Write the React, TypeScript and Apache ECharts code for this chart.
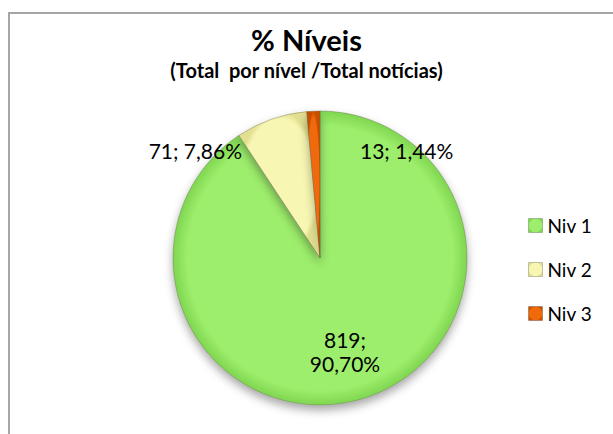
import React, { useEffect, useRef } from "react";
import * as echarts from "echarts";

const categories = ["Niv 1", "Niv 2", "Niv 3"];
const values = [819, 71, 13];
const percentLabels = ["90,70%", "7,86%", "1,44%"];
const colors = ["#9DEE6C", "#F7F6B2", "#F06A0A"];
const edgeColors = ["#7FD650", "#E2E090", "#C85000"];

export default function App() {
  const ref = useRef<HTMLDivElement>(null);
  useEffect(() => {
    document.body.style.margin = "0";
    const chart = echarts.init(ref.current!, null, { renderer: "svg" });
    const font = "Lato, 'Noto Sans', sans-serif";
    const cx = 320;
    const cy = 258;
    const labelPos: Record<number, any> = {
      0: { x: cx + 25, y: cy + 93, align: "center", verticalAlign: "middle" },
      1: { x: cx - 78, y: cy - 108, align: "right", verticalAlign: "middle" },
      2: { x: cx + 40, y: cy - 108, align: "left", verticalAlign: "middle" },
    };
    chart.setOption({
      animation: false,
      backgroundColor: "#ffffff",
      title: {
        text: "% Níveis",
        subtext: "(Total  por nível /Total notícias)",
        left: "center",
        top: 20,
        itemGap: 6,
        textStyle: { fontFamily: font, fontSize: 29, fontWeight: "bold", color: "#000" },
        subtextStyle: { fontFamily: font, fontSize: 20, fontWeight: "bold", color: "#000" },
      },
      graphic: [
        {
          type: "rect",
          shape: { x: 9, y: 13, width: 640, height: 460 },
          style: { fill: "none", stroke: "#a6a6a6", lineWidth: 2 },
          silent: true,
          z: -1,
        },
      ],
      legend: {
        orient: "vertical",
        left: 523,
        top: 211,
        itemWidth: 14,
        itemHeight: 14,
        itemGap: 25,
        icon: "rect",
        itemStyle: { borderColor: "rgba(0,0,0,0.2)", borderWidth: 1 },
        textStyle: { fontFamily: font, fontSize: 19, color: "#000" },
        data: categories,
      },
      series: [
        {
          type: "pie",
          center: [cx, cy],
          radius: 147,
          startAngle: 90,
          clockwise: true,
          labelLayout: (params: any) => labelPos[params.dataIndex],
          label: {
            show: true,
            position: "inside",
            fontFamily: font,
            fontSize: 21,
            color: "#000",
            lineHeight: 24,
            formatter: (p: any) =>
              p.dataIndex === 0
                ? `${values[p.dataIndex]};\n${percentLabels[p.dataIndex]}`
                : `${values[p.dataIndex]}; ${percentLabels[p.dataIndex]}`,
          },
          labelLine: { show: false },
          itemStyle: {
            borderColor: "rgba(90,90,60,0.35)",
            borderWidth: 1,
            shadowBlur: 10,
            shadowOffsetY: 5,
            shadowColor: "rgba(0,0,0,0.35)",
          },
          emphasis: { disabled: true },
          data: categories.map((name, i) => ({
            name,
            value: values[i],
            itemStyle: {
              color: {
                type: "radial",
                x: 0.5,
                y: 0.5,
                r: 0.5,
                colorStops: [
                  { offset: 0, color: colors[i] },
                  { offset: 0.9, color: colors[i] },
                  { offset: 1, color: edgeColors[i] },
                ],
              },
            },
          })),
        },
      ],
    });
    return () => chart.dispose();
  }, []);
  return <div ref={ref} style={{ width: 613, height: 434 }} />;
}
